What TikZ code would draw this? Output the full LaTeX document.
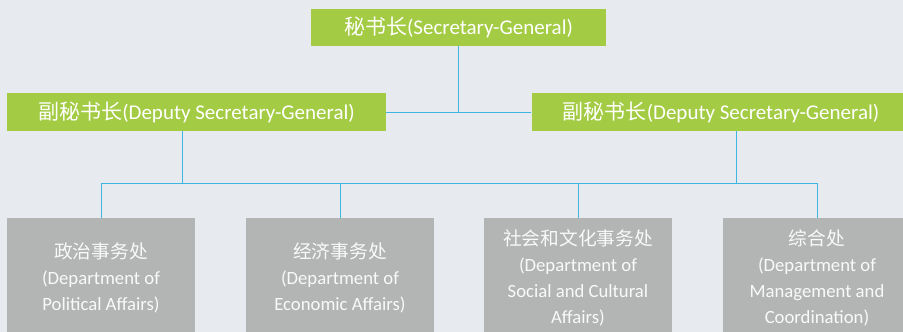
\documentclass[tikz,border=0pt]{standalone}
\usepackage{fontspec}
\setmainfont{Carlito}
\newfontfamily\cjk{Noto Sans CJK SC}
\usepackage{tikz}
\definecolor{bgcol}{HTML}{E7EAEE}
\definecolor{boxgreen}{HTML}{A3CB43}
\definecolor{boxgray}{HTML}{B3B4B4}
\definecolor{linkblue}{HTML}{3DB5E0}

\begin{document}
\begin{tikzpicture}[x=1pt, y=-1pt,
  greenbox/.style={fill=boxgreen, text=white, inner sep=0pt, align=center,
    font=\fontsize{21}{24}\selectfont},
  graybox/.style={fill=boxgray, text=white!95!gray, inner sep=0pt, align=center,
    minimum width=188pt, minimum height=120pt, font=\fontsize{18.7}{26}\selectfont},
  link/.style={draw=linkblue, line width=1pt}]
%background
  \fill[bgcol] (0,0) rectangle (903,332);
  \useasboundingbox (0,0) rectangle (903,332);
  \clip (0,0) rectangle (903,332);

%top
  \node[greenbox, minimum width=295pt, minimum height=37pt] (sg) at (458.5,27.5)
    {{\cjk 秘书长}(Secretary-General)};

%deputies
  \node[greenbox, minimum width=379pt, minimum height=38pt] (dl) at (196.5,112)
    {{\cjk 副秘书长}(Deputy Secretary-General)};
  \node[greenbox, minimum width=379pt, minimum height=38pt] (dr) at (721,112)
    {{\cjk 副秘书长}(Deputy Secretary-General)};

%departments
  \node[graybox] (d1) at (101,278) {{\cjk 政治事务处}\\(Department of\\Political Affairs)};
  \node[graybox] (d2) at (340,278) {{\cjk 经济事务处}\\(Department of\\Economic Affairs)};
  \node[graybox] (d3) at (578,278) {{\cjk 社会和文化事务处}\\(Department of\\Social and Cultural\\Affairs)};
  \node[graybox] (d4) at (817,278) {{\cjk 综合处}\\(Department of\\Management and\\Coordination)};

  \coordinate (bus) at (0,183);
  \coordinate (dls) at ([xshift=-14.5pt]dl.south);
  \coordinate (drs) at ([xshift=15pt]dr.south);

  \draw[link] (sg.south) -- (sg.south |- dl.east);
  \draw[link] (dl.east) -- (dr.west);
  \draw[link] (dls) -- (dls |- bus);
  \draw[link] (drs) -- (drs |- bus);
  \draw[link] (d1.north |- bus) -- (d4.north |- bus);
  \draw[link] (d1.north) -- (d1.north |- bus);
  \draw[link] (d2.north) -- (d2.north |- bus);
  \draw[link] (d3.north) -- (d3.north |- bus);
  \draw[link] (d4.north) -- (d4.north |- bus);
\end{tikzpicture}
\end{document}
